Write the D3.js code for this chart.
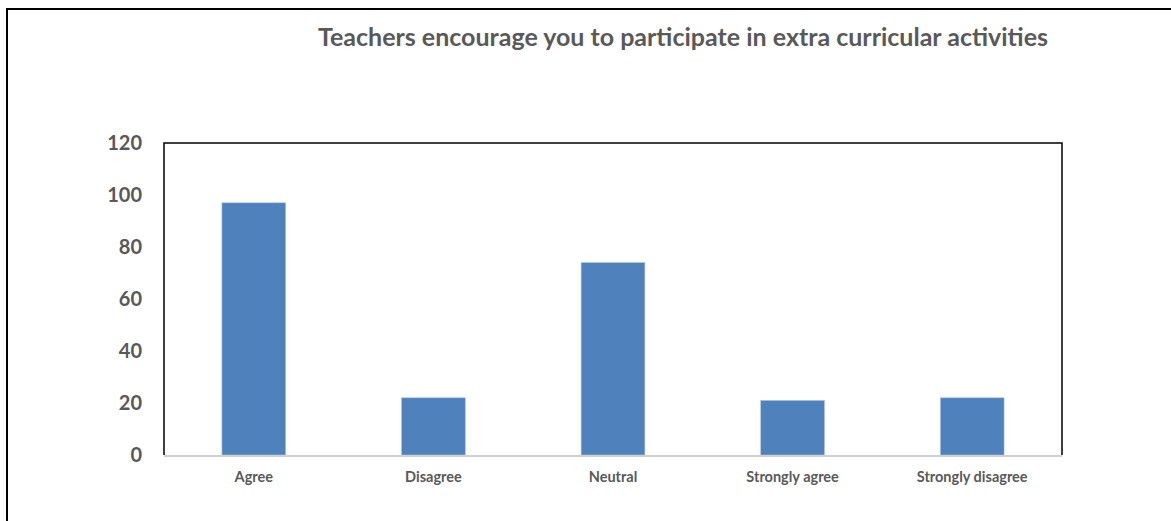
<!DOCTYPE html>
<html><head><meta charset="utf-8">
<script src="https://cdn.jsdelivr.net/npm/d3@7"></script>
<style>body{margin:0;background:#fff}svg{display:block}text{font-family:Lato,"Open Sans",sans-serif;font-weight:bold;fill:#595959}</style>
</head><body><svg id="c" width="1171" height="521"></svg>
<script>
const title = "Teachers encourage you to participate in extra curricular activities";
const categories = ["Agree","Disagree","Neutral","Strongly agree","Strongly disagree"];
const values = [97,22,74,21,22];
const yTicks = [0,20,40,60,80,100,120];

const svg = d3.select("#c");
const L=164, R=1062, T=143, B=455;

svg.append("rect").attr("x",7).attr("y",9).attr("width",1200).attr("height",600)
  .attr("fill","none").attr("stroke","#000").attr("stroke-width",2);

svg.append("text").attr("x",683).attr("y",46).attr("text-anchor","middle")
  .attr("font-size",25).text(title);

const x = d3.scaleBand().domain(categories).range([L,R]).paddingInner(0.645).paddingOuter(0.3225);
const y = d3.scaleLinear().domain([0,120]).range([B,T]);

// plot frame (left, top, right)
svg.append("path").attr("d",`M${L},${B}V${T}H${R}V${B}`).attr("fill","none")
  .attr("stroke","#000").attr("stroke-width",1.5);

svg.selectAll("rect.bar").data(values).enter().append("rect").attr("class","bar")
  .attr("x",(d,i)=>x(categories[i])).attr("width",x.bandwidth())
  .attr("y",d=>y(d)).attr("height",d=>B-y(d)).attr("fill","#4f81bd")
  .attr("stroke","#a9c4e6").attr("stroke-width",0.6);

// x axis line
svg.append("line").attr("x1",L).attr("x2",R).attr("y1",B+1).attr("y2",B+1)
  .attr("stroke","#d0d0d0").attr("stroke-width",2);

const yAxis = svg.append("g").attr("transform",`translate(${L},0)`)
  .call(d3.axisLeft(y).tickValues(yTicks).tickSize(0).tickPadding(22));
yAxis.select(".domain").remove();
yAxis.selectAll("text").attr("font-size",20).attr("font-family",null).style("fill","#595959");

const xAxis = svg.append("g").attr("transform",`translate(0,${B})`)
  .call(d3.axisBottom(x).tickSize(0).tickPadding(17));
xAxis.select(".domain").remove();
xAxis.selectAll("text").attr("font-size",14.5).attr("font-family",null).style("fill","#595959");
</script></body></html>
